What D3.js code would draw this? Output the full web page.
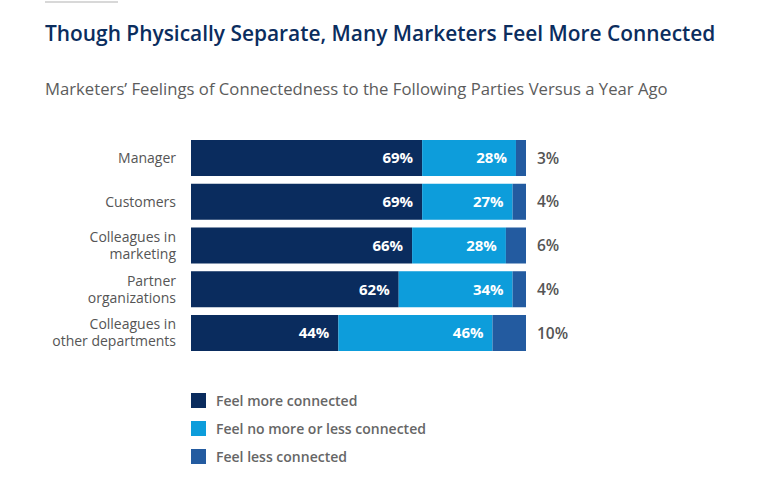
<!DOCTYPE html>
<html>
<head>
<meta charset="utf-8">
<script src="https://cdn.jsdelivr.net/npm/d3@7"></script>
<style>
  html, body { margin: 0; padding: 0; background: #fff; }
  svg text { font-family: "Open Sans", "Noto Sans", sans-serif; }
</style>
</head>
<body>
<div id="chart"></div>
<script>
var categories = [
  ['Manager'],
  ['Customers'],
  ['Colleagues in', 'marketing'],
  ['Partner', 'organizations'],
  ['Colleagues in', 'other departments']
];
var moreConnected = [69, 69, 66, 62, 44];
var sameConnected = [28, 27, 28, 34, 46];
var lessConnected = [3, 4, 6, 4, 10];
var seriesNames = ['Feel more connected', 'Feel no more or less connected', 'Feel less connected'];
var seriesColors = ['#0a2c5e', '#0d9ddb', '#235ba0'];

var W = 779, H = 503;

var svg = d3.select('#chart').append('svg')
  .attr('width', W)
  .attr('height', H);

// little grey rule at the very top
svg.append('line')
  .attr('x1', 45).attr('x2', 118)
  .attr('y1', 2).attr('y2', 2)
  .attr('stroke', '#d8d8d8')
  .attr('stroke-width', 2);

svg.append('text')
  .attr('x', 45).attr('y', 41)
  .attr('fill', '#0b2d5e')
  .attr('font-size', 20.9)
  .attr('font-weight', 600)
  .text('Though Physically Separate, Many Marketers Feel More Connected');

svg.append('text')
  .attr('x', 45).attr('y', 95)
  .attr('fill', '#5c5c5c')
  .attr('font-size', 16.7)
  .text('Marketers\u2019 Feelings of Connectedness to the Following Parties Versus a Year Ago');

var rows = categories.map(function (c, i) {
  return {
    name: c,
    values: [moreConnected[i], sameConnected[i], lessConnected[i]]
  };
});

var x = d3.scaleLinear()
  .domain([0, 100])
  .range([191, 526]);

var y = d3.scaleBand()
  .domain(d3.range(rows.length))
  .range([140, 351])
  .paddingInner(0.177)
  .paddingOuter(0);

var row = svg.selectAll('.row')
  .data(rows)
  .enter().append('g')
  .attr('class', 'row')
  .attr('transform', function (d, i) { return 'translate(0,' + y(i) + ')'; });

row.each(function (d) {
  var g = d3.select(this), acc = 0;
  d.values.forEach(function (v, k) {
    g.append('rect')
      .attr('x', x(acc))
      .attr('y', 0)
      .attr('width', x(acc + v) - x(acc))
      .attr('height', y.bandwidth())
      .attr('fill', seriesColors[k]);
    acc += v;
    if (k < 2) {
      g.append('text')
        .attr('x', x(acc) - 9)
        .attr('y', y.bandwidth() / 2)
        .attr('dy', '0.36em')
        .attr('text-anchor', 'end')
        .attr('fill', '#fff')
        .attr('font-size', 15)
        .attr('font-weight', 700)
        .text(v + '%');
    } else {
      g.append('text')
        .attr('x', x(100) + 11)
        .attr('y', y.bandwidth() / 2)
        .attr('dy', '0.36em')
        .attr('fill', '#555')
        .attr('font-size', 15.5)
        .attr('font-weight', 600)
        .text(v + '%');
    }
  });

  // category label, one or two lines
  var lbl = g.append('text')
    .attr('x', 176)
    .attr('text-anchor', 'end')
    .attr('fill', '#555')
    .attr('font-size', 14);
  var n = d.name.length;
  d.name.forEach(function (line, j) {
    lbl.append('tspan')
      .attr('x', 176)
      .attr('y', y.bandwidth() / 2 + (j - (n - 1) / 2) * 17)
      .attr('dy', '0.35em')
      .text(line);
  });
});

// legend
var legend = svg.selectAll('.legend')
  .data(seriesNames)
  .enter().append('g')
  .attr('class', 'legend')
  .attr('transform', function (d, i) { return 'translate(191,' + (393 + i * 28) + ')'; });

legend.append('rect')
  .attr('width', 15)
  .attr('height', 15)
  .attr('fill', function (d, i) { return seriesColors[i]; });

legend.append('text')
  .attr('x', 25)
  .attr('y', 7.5)
  .attr('dy', '0.36em')
  .attr('fill', '#666')
  .attr('font-size', 14)
  .attr('font-weight', 600)
  .text(function (d) { return d; });
</script>
</body>
</html>
